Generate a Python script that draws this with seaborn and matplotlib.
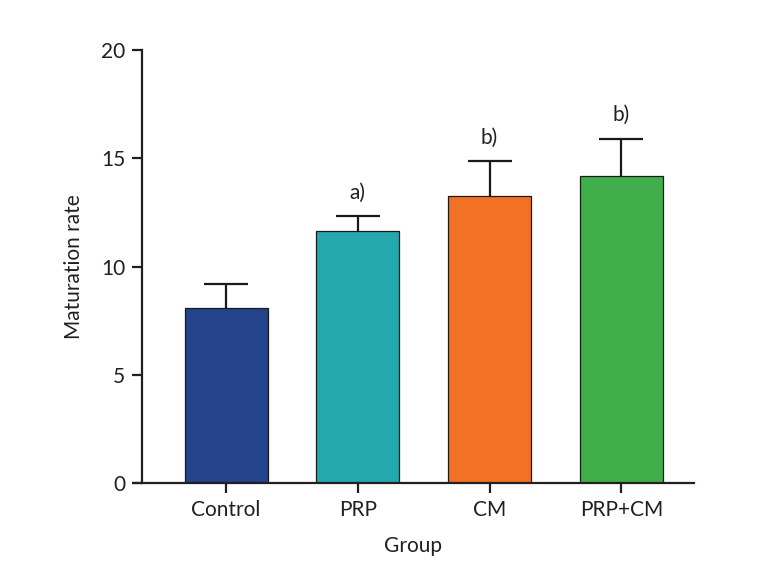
import matplotlib
matplotlib.use("Agg")
import matplotlib.pyplot as plt
import pandas as pd
import seaborn as sns

groups = ["Control", "PRP", "CM", "PRP+CM"]
means = [8.08, 11.64, 13.26, 14.18]
sds = [1.11, 0.69, 1.61, 1.71]
marks = ["", "a)", "b)", "b)"]
colors = ["#24438B", "#25A8AD", "#F27124", "#40AE4A"]

sns.set_style("ticks")
plt.rcParams["font.family"] = ["Lato", "DejaVu Sans"]

df = pd.DataFrame({"Group": groups, "Maturation rate": means})

fig = plt.figure(figsize=(7.59, 5.64), dpi=100)
ax = fig.add_axes([0.1752, 0.1436, 0.739, 0.7674])

sns.barplot(data=df, x="Group", y="Maturation rate", hue="Group",
            palette=colors, saturation=1, legend=False, width=0.63,
            edgecolor="#1a1a1a", linewidth=0.9, ax=ax, zorder=2)
ax.errorbar(range(len(groups)), means, yerr=[[0.3] * len(sds), sds],
            fmt="none", ecolor="#1a1a1a", elinewidth=1.6,
            capsize=16, capthick=1.6, zorder=1)

for i, (m, s, t) in enumerate(zip(means, sds, marks)):
    if t:
        ax.text(i, m + s + 1.1, t, ha="center", va="center",
                fontsize=15, color="#231f20")

ax.set_ylim(0, 20)
ax.set_yticks([0, 5, 10, 15, 20])
ax.set_xlim(-0.706, 3.55)
ax.spines["left"].set_position(("data", -0.638))
ax.spines["top"].set_visible(False)
ax.spines["right"].set_visible(False)
for sp in ("left", "bottom"):
    ax.spines[sp].set_linewidth(1.6)
    ax.spines[sp].set_color("#231f20")
ax.tick_params(axis="both", direction="out", length=7, width=1.6,
               labelsize=15, colors="#231f20", pad=5)
ax.set_xlabel("Group", fontsize=15, color="#231f20", labelpad=12)
ax.set_ylabel("Maturation rate", fontsize=15, color="#231f20", labelpad=12)

fig.savefig("out.png", dpi=100)
